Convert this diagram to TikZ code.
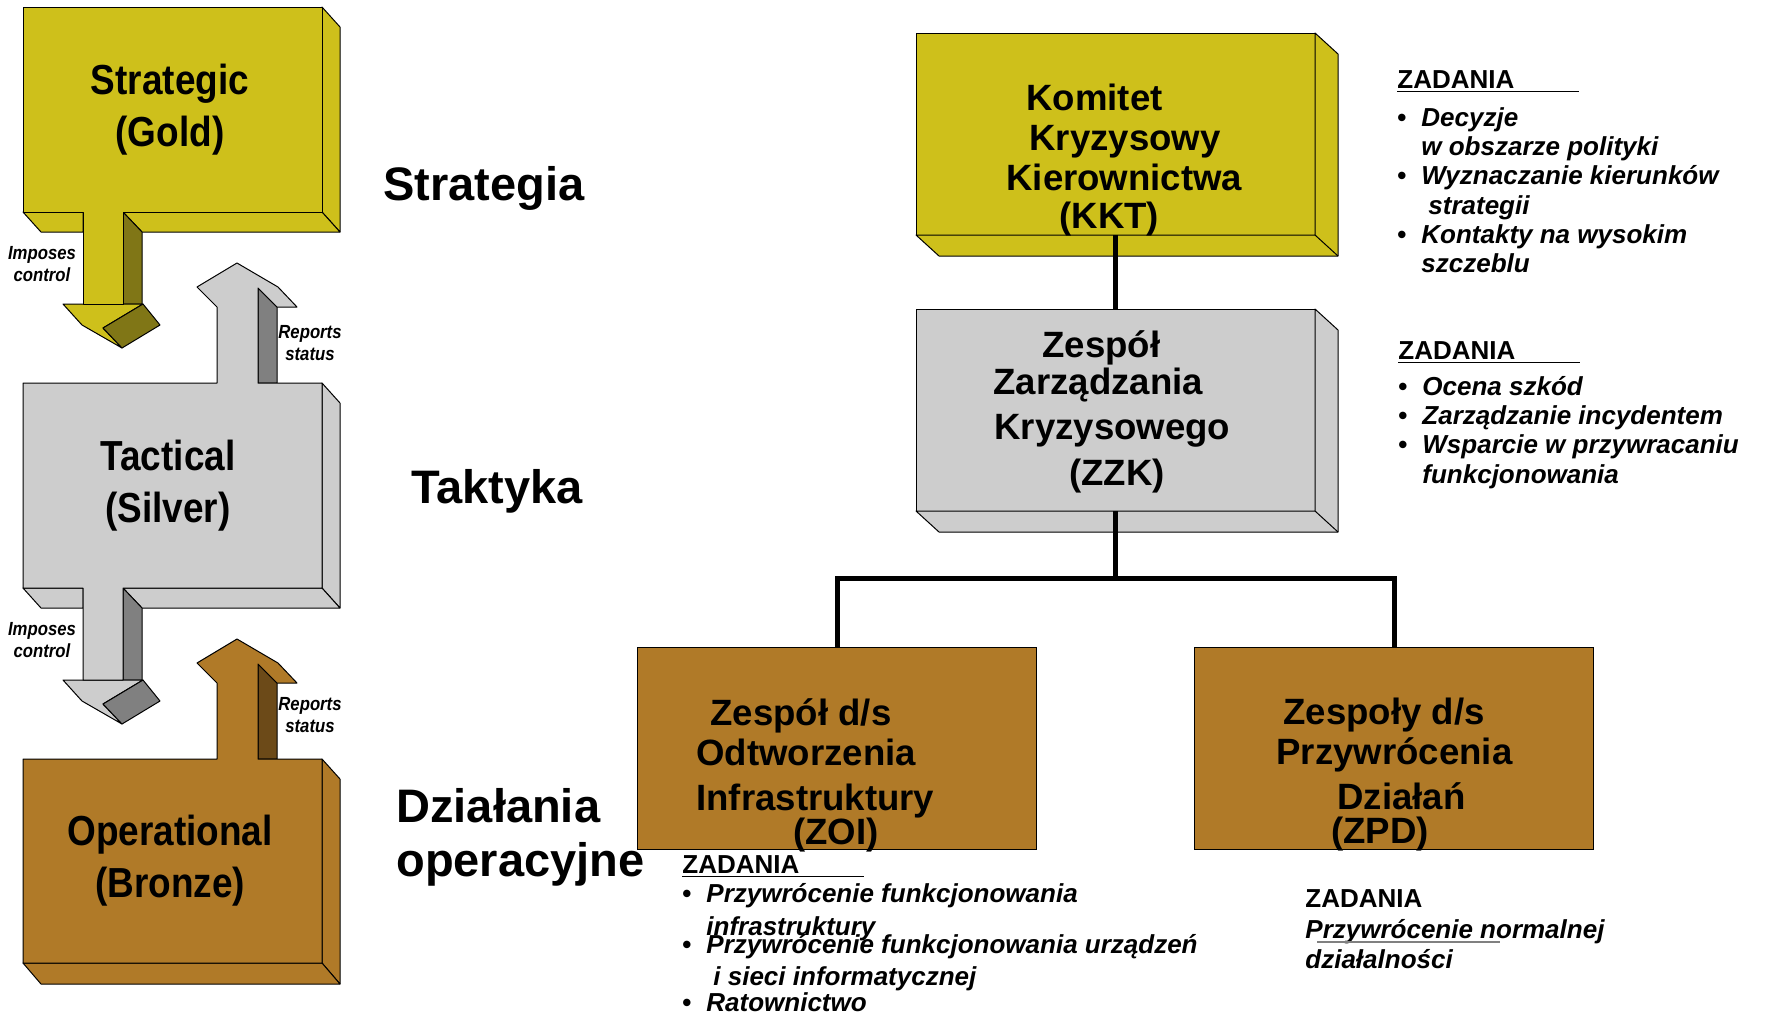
\documentclass[tikz,border=0pt]{standalone}
\usepackage{fontspec}
\setmainfont{Liberation Sans}
\newfontfamily\narrowsans[FakeStretch=0.88]{Liberation Sans}
\usetikzlibrary{calc,positioning}

\definecolor{gold}{RGB}{206,192,27}
\definecolor{golddark}{RGB}{128,118,22}
\definecolor{silver}{RGB}{205,205,205}
\definecolor{silverdark}{RGB}{128,128,128}
\definecolor{bronze}{RGB}{176,122,40}
\definecolor{bronzedark}{RGB}{108,74,24}

\newcommand{\itm}[1]{\makebox[12pt][l]{\textbullet}\textit{#1}}
\newcommand{\cnt}[1]{\hspace*{12pt}\textit{#1}}
\newcommand{\zad}{\underline{\makebox[91pt][l]{ZADANIA}}}

\begin{document}
\begin{tikzpicture}[x=0.5pt, y=-0.5pt,
    face/.style={draw=black, line width=0.5pt, line join=round},
    tier/.style={font=\narrowsans\fontsize{21}{26}\selectfont\bfseries, align=center, inner sep=0pt},
    note/.style={font=\narrowsans\fontsize{9.5}{11}\selectfont\bfseries\itshape, align=center, inner sep=0pt},
    stage/.style={font=\fontsize{23.5}{27}\selectfont\bfseries, inner sep=0pt},
    box/.style={draw=black, line width=0.5pt, inner sep=0pt, outer sep=0pt, minimum width=199.5pt, minimum height=101pt},
    boxtext/.style={font=\fontsize{18.3}{20}\selectfont\bfseries, align=left, inner sep=0pt, anchor=north west},
    tasks/.style={font=\fontsize{13}{14.6}\selectfont\bfseries, align=left, inner sep=0pt, anchor=north west},
    link/.style={line width=2.5pt}]

    \useasboundingbox (0,0) rectangle (1765,1014);

    % strategic level (gold)
    \filldraw[face, fill=gold] (322,7) -- (340,27) -- (340,232) -- (322,212) -- cycle;
    \filldraw[face, fill=gold] (23,212) -- (83,212) -- (83,232) -- (41,232) -- cycle;
    \filldraw[face, fill=gold] (123,212) -- (322,212) -- (340,232) -- (142,232) -- cycle;
    \filldraw[face, fill=golddark] (123,212) -- (142,232) -- (142,304) -- (123,304) -- cycle;
    \filldraw[face, fill=gold] (63,304) -- (143,304) -- (103,328) -- (122,348) -- (82,325) -- cycle;
    \filldraw[face, fill=golddark] (103,328) -- (143,304) -- (160,325) -- (122,348) -- cycle;
    \filldraw[face, fill=gold] (23,7) -- (322,7) -- (322,212) -- (123,212) -- (123,304) -- (83,304) -- (83,212) -- (23,212) -- cycle;

    % tactical level (silver)
    \filldraw[face, fill=silverdark] (258,288) -- (277,307) -- (277,383) -- (258,383) -- cycle;
    \filldraw[face, fill=silver] (322,383) -- (340,403) -- (340,608) -- (322,588) -- cycle;
    \filldraw[face, fill=silver] (23,588) -- (83,588) -- (83,608) -- (41,608) -- cycle;
    \filldraw[face, fill=silver] (123,588) -- (322,588) -- (340,608) -- (142,608) -- cycle;
    \filldraw[face, fill=silverdark] (123,588) -- (142,608) -- (142,680) -- (123,680) -- cycle;
    \filldraw[face, fill=silver] (63,680) -- (143,680) -- (103,704) -- (122,724) -- (82,701) -- cycle;
    \filldraw[face, fill=silverdark] (103,704) -- (143,680) -- (160,701) -- (122,724) -- cycle;
    \filldraw[face, fill=silver] (23,383) -- (217,383) -- (217,307) -- (197,287) -- (237,263) -- (278,287)
        -- (297,307) -- (277,307) -- (258,288) -- (258,383) -- (322,383) -- (322,588) -- (123,588)
        -- (123,680) -- (83,680) -- (83,588) -- (23,588) -- cycle;

    % operational level (bronze)
    \filldraw[face, fill=bronzedark] (258,664) -- (277,683) -- (277,759) -- (258,759) -- cycle;
    \filldraw[face, fill=bronze] (322,759) -- (340,779) -- (340,984) -- (322,963) -- cycle;
    \filldraw[face, fill=bronze] (23,963) -- (322,963) -- (340,984) -- (41,984) -- cycle;
    \filldraw[face, fill=bronze] (23,759) -- (217,759) -- (217,683) -- (197,663) -- (237,639) -- (278,663)
        -- (297,683) -- (277,683) -- (258,664) -- (258,759) -- (322,759) -- (322,963) -- (23,963) -- cycle;

    \node[tier] (strategic) at (170,110) {Strategic\\(Gold)};
    \node[tier] (tactical) at (168,486) {Tactical\\(Silver)};
    \node[tier] (operational) at (170,861) {Operational\\(Bronze)};

    \node[note] (imposes1) at (42,264) {Imposes\\control};
    \node[note] (imposes2) at (42,640) {Imposes\\control};
    \node[note] (reports1) at (310,343) {Reports\\status};
    \node[note] (reports2) at (310,715) {Reports\\status};

    \node[stage, anchor=base] (strategia) at (484,200) {Strategia};
    \node[stage, anchor=base] (taktyka) at (497,503) {Taktyka};
    \node[stage, anchor=west, align=left] (dzialania) at (396,837) {Działania\\operacyjne};

    % crisis teams
    \node[box, fill=gold] (kkt) at (1115.5,134) {};
    \node[box, fill=silver, below=37pt of kkt] (zzk) {};
    \node[box, fill=bronze] (zoi) at (837,748.5) {};
    \node[box, fill=bronze] (zpd) at (1394,748.5) {};

    \foreach \n/\c in {kkt/gold, zzk/silver} {
        \filldraw[face, fill=\c] (\n.north east) -- ++(23,21) -- ($(\n.south east)+(23,21)$)
            -- ($(\n.south west)+(23,21)$) -- (\n.south west) -- (\n.south east) -- cycle;
        \draw[face] (\n.south east) -- ++(23,21);
    }

    \draw[link] (kkt) -- (zzk);
    \draw[link] (zzk.south) -- ++(0,67) coordinate (bus);
    \draw[link] (zoi.north) |- (bus) -| (zpd.north);

    \node[boxtext] (kkt-text) at (1006,84) {\hspace*{10pt}Komitet\\\hspace*{11.5pt}Kryzysowy\\Kierownictwa\\[-1pt]\hspace*{26.5pt}(KKT)};
    \node[boxtext] (zzk-text) at (993,330) {\hspace*{24.5pt}Zespół\\[-1.5pt]Zarządzania\\[2.5pt]\hspace*{0.5pt}Kryzysowego\\[3pt]\hspace*{38pt}(ZZK)};
    \node[boxtext] (zoi-text) at (696,698) {\hspace*{7pt}Zespół d/s\\Odtworzenia\\[2.5pt]Infrastruktury\\[-3pt]\hspace*{48.5pt}(ZOI)};
    \node[boxtext] (zpd-text) at (1276,698) {\hspace*{3.5pt}Zespoły d/s\\Przywrócenia\\[2.5pt]\hspace*{30.5pt}Działań\\[-3pt]\hspace*{27.5pt}(ZPD)};

    % tasks
    \node[tasks] (kkt-tasks) at (1397,70) {\zad\\[4.5pt]
        \itm{Decyzje}\\
        \cnt{w obszarze polityki}\\
        \itm{Wyznaczanie kierunków}\\
        \cnt{\hspace*{3.5pt}strategii}\\
        \itm{Kontakty na wysokim}\\
        \cnt{szczeblu}};
    \node[tasks] (zzk-tasks) at (1398,341) {\zad\\[3.5pt]
        \itm{Ocena szkód}\\
        \itm{Zarządzanie incydentem}\\
        \itm{Wsparcie w przywracaniu}\\
        \cnt{funkcjonowania}};
    \node[tasks] (zoi-tasks) at (682,855) {\zad\\[-0.1pt]
        \itm{Przywrócenie funkcjonowania}\\[2.1pt]
        \cnt{infrastruktury}\\[-5.5pt]
        \itm{Przywrócenie funkcjonowania urządzeń}\\[1.1pt]
        \cnt{\hspace*{3.5pt}i sieci informatycznej}\\[-1.6pt]
        \itm{Ratownictwo}};
    \node[tasks] (zpd-tasks) at (1305,889) {ZADANIA\\[1.1pt]
        \textit{Przywrócenie normalnej}\\[0.4pt]
        \textit{działalności}};
    \draw[gray, line width=1pt] (1317,942) -- (1500,942);

\end{tikzpicture}
\end{document}
